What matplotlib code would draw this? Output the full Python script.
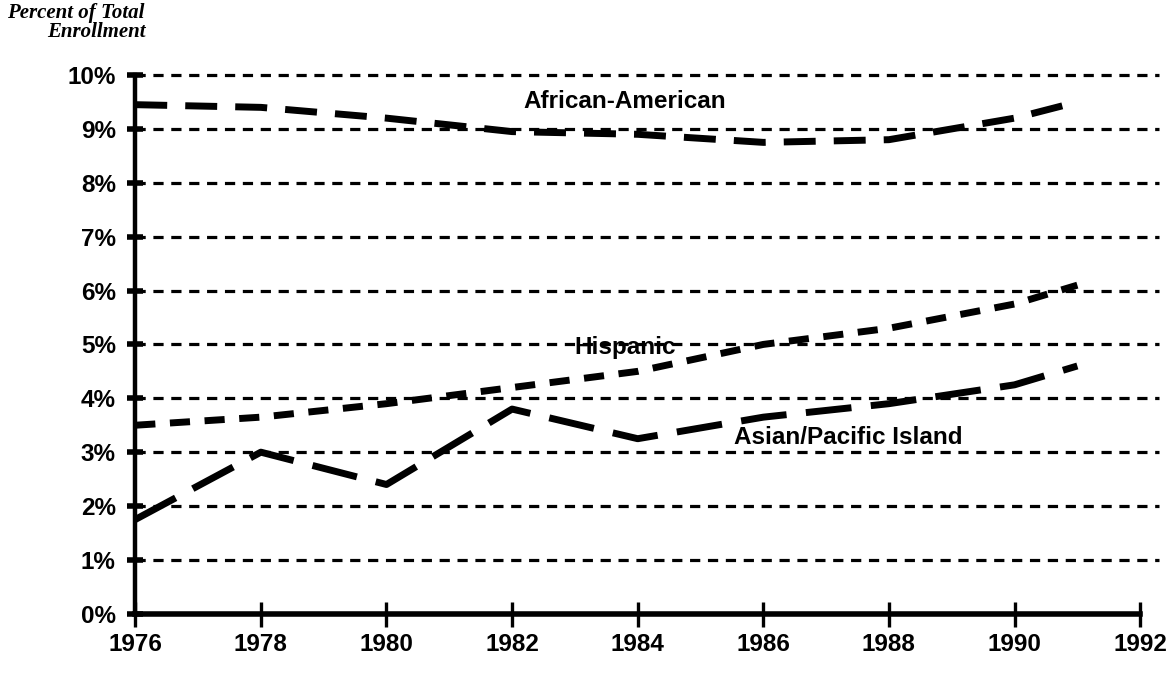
import matplotlib
matplotlib.use("Agg")
import matplotlib.pyplot as plt

years = [1976, 1978, 1980, 1982, 1984, 1986, 1988, 1990, 1991]
african_american = [9.45, 9.4, 9.2, 8.95, 8.9, 8.75, 8.8, 9.2, 9.5]
hispanic = [3.5, 3.65, 3.9, 4.2, 4.5, 5.0, 5.3, 5.75, 6.1]
asian_pacific = [1.75, 3.0, 2.4, 3.8, 3.25, 3.65, 3.9, 4.25, 4.6]
x_ticks = [1976, 1978, 1980, 1982, 1984, 1986, 1988, 1990, 1992]
y_ticks = list(range(0, 11))
y_labels = [f"{v}%" for v in y_ticks]

fig = plt.figure(figsize=(11.66, 6.76), dpi=100)
ax = fig.add_axes([0.116, 0.092, 0.878, 0.797])
ax.set_xlim(1976, 1992.3)
ax.set_ylim(0, 10)

# dotted gridlines
for v in y_ticks[1:]:
    ax.plot([1976, 1992.3], [v, v], color="black", lw=2.3,
            linestyle=(0, (3.2, 2.4)), clip_on=False, zorder=1)

lw = 5.0
ax.plot(years, african_american, color="black", lw=lw, dashes=(4.6, 2.6),
        dash_capstyle="butt", clip_on=False, zorder=3)
ax.plot(years, hispanic, color="black", lw=lw, dashes=(2.9, 2.1),
        dash_capstyle="butt", clip_on=False, zorder=3)
ax.plot(years, asian_pacific, color="black", lw=lw, dashes=(6.6, 2.8),
        dash_capstyle="butt", clip_on=False, zorder=3)

tfont = dict(family=["Liberation Sans", "DejaVu Sans"], fontweight="bold", fontsize=17.5)
ax.text(1983.8, 9.5, "African-American", ha="center", va="center", **tfont)
ax.text(1983.8, 4.95, "Hispanic", ha="center", va="center", **tfont)
ax.text(1987.35, 3.28, "Asian/Pacific Island", ha="center", va="center", **tfont)

for s in ["top", "right"]:
    ax.spines[s].set_visible(False)
ax.spines["left"].set_linewidth(3.2)
ax.spines["bottom"].set_linewidth(4.0)
ax.spines["bottom"].set_bounds(1976, 1992)

ax.set_xticks(x_ticks)
ax.set_xticklabels([str(x) for x in x_ticks], **tfont)
ax.set_yticks(y_ticks)
ax.set_yticklabels(y_labels, **tfont)
ax.tick_params(axis="x", direction="inout", length=18, width=2.4, pad=5)
ax.tick_params(axis="y", direction="inout", length=12, width=4, pad=8)

tkw = dict(family=["Liberation Serif"], style="italic", fontweight="bold", fontsize=15)
fig.text(0.065, 0.981, "Percent of Total", ha="center", va="center", **tkw)
fig.text(0.083, 0.952, "Enrollment", ha="center", va="center", **tkw)

fig.savefig("out.png", dpi=100)
